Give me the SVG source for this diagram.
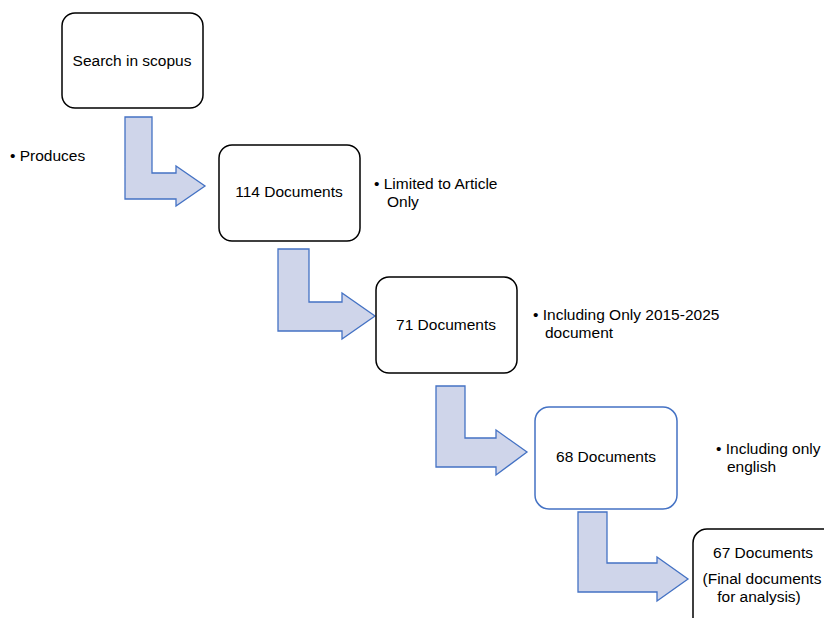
<svg xmlns="http://www.w3.org/2000/svg" width="824" height="618" viewBox="0 0 824 618">
<style>
.box{fill:#fff;stroke:#000;stroke-width:1.5}
.boxb{fill:#fff;stroke:#4472c4;stroke-width:1.5}
.arr{fill:#cfd5ea;stroke:#4472c4;stroke-width:1.3;stroke-linejoin:miter}
text{font-family:"Liberation Sans",Arial,sans-serif;font-size:15.5px;fill:#000}
.c{text-anchor:middle}
</style>
<rect width="824" height="618" fill="#fff"/>
<g id="connectors">
<polygon class="arr" points="125,117 152,117 152,173 176,173 176,166 205,186 176,206 176,199 125,199"/>
<polygon class="arr" points="278,249 309,249 309,302 342,302 342,293 375,316 342,339 342,331 278,331"/>
<polygon class="arr" points="436,386 465,386 465,438 496,438 496,430 527,452 496,475 496,467 436,467"/>
<polygon class="arr" points="578,512 607,512 607,563 657,563 657,557 688,579 657,601 657,592 578,592"/>
</g>
<g id="node-search">
<rect class="box" x="62" y="13" width="141" height="95" rx="13"/>
<text class="c" x="132" y="66">Search in scopus</text>
</g>
<g id="note-produces">
<text x="10" y="161">• Produces</text>
</g>
<g id="node-114">
<rect class="box" x="219" y="145" width="141" height="96" rx="13"/>
<text class="c" x="289" y="197">114 Documents</text>
</g>
<g id="note-article">
<text x="374" y="189">• Limited to Article</text>
<text x="387" y="207">Only</text>
</g>
<g id="node-71">
<rect class="box" x="376" y="277" width="141" height="96" rx="13"/>
<text class="c" x="446" y="330">71 Documents</text>
</g>
<g id="note-years">
<text x="533" y="320">• Including Only 2015-2025</text>
<text x="545" y="338">document</text>
</g>
<g id="node-68">
<rect class="boxb" x="535" y="407" width="142" height="102" rx="14"/>
<text class="c" x="606" y="462">68 Documents</text>
</g>
<g id="note-english">
<text x="716" y="454">• Including only</text>
<text x="727" y="472">english</text>
</g>
<g id="node-67">
<rect class="box" x="693" y="529" width="145" height="110" rx="14"/>
<text class="c" x="763" y="558">67 Documents</text>
<text class="c" x="762" y="584">(Final documents</text>
<text class="c" x="759" y="602">for analysis)</text>
</g>
</svg>
